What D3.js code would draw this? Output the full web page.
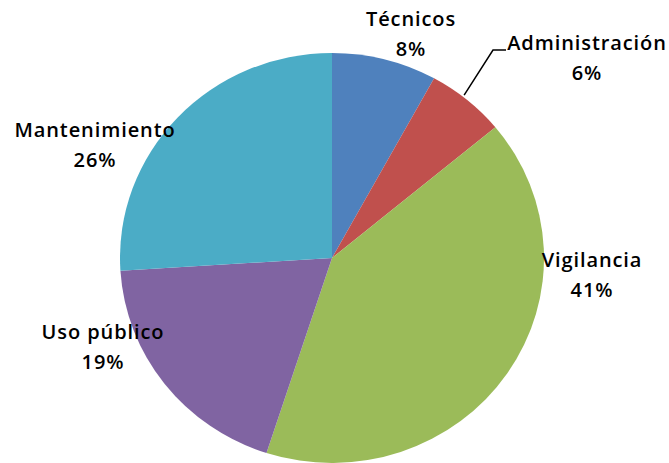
<!DOCTYPE html>
<html>
<head>
<meta charset="utf-8">
<script src="https://cdn.jsdelivr.net/npm/d3@7"></script>
<style>
  body { margin: 0; background: #fff; }
  text { font-family: "Open Sans", sans-serif; font-weight: 600; font-size: 20px; fill: #000; }
</style>
</head>
<body>
<svg id="chart" width="669" height="463"></svg>
<script>
// data
var categories = ["Técnicos", "Administración", "Vigilancia", "Uso público", "Mantenimiento"]
var shares = [8, 6, 41, 19, 26]
var colors = ["#4F81BD", "#C0504D", "#9BBB59", "#8064A2", "#4BACC6"]

// label positions (excel "best fit"), relative to pie centre
var labelAt = [[79, -232], [255, -208], [260, 9], [-229, 81], [-237, -121]]

var width = 669, height = 463
var cx = 332, cy = 258
var rx = 212, ry = 205

var svg = d3.select("#chart")

var pie = d3.pie().sort(null).value(function(d){ return d })
var arc = d3.arc().innerRadius(0).outerRadius(rx)

var arcs = pie(shares)

svg.append("g")
  .attr("transform", "translate(" + cx + "," + cy + ") scale(1," + (ry / rx) + ")")
  .selectAll("path")
  .data(arcs)
  .enter()
  .append("path")
    .attr("d", arc)
    .style("fill", function(d, i){ return colors[i] })

// leader line for Administración
var a = arcs[1]
var mid = (a.startAngle + a.endAngle) / 2
var px = cx + rx * Math.sin(mid), py = cy - ry * Math.cos(mid)
svg.append("polyline")
  .attr("points", [[px - 3, py - 5], [493, 50], [506, 50]].map(function(p){ return p.join(",") }).join(" "))
  .style("fill", "none")
  .style("stroke", "#000")
  .style("stroke-width", 1.5)

// labels
var labels = svg.append("g")
  .selectAll("text")
  .data(arcs)
  .enter()
  .append("text")
    .attr("text-anchor", "middle")
    .attr("x", function(d, i){ return cx + labelAt[i][0] })
    .attr("y", function(d, i){ return cy + labelAt[i][1] })
    .style("letter-spacing", "0.9px")

labels.append("tspan")
  .attr("x", function(d, i){ return cx + labelAt[i][0] })
  .text(function(d, i){ return categories[i] })

labels.append("tspan")
  .attr("x", function(d, i){ return cx + labelAt[i][0] })
  .attr("dy", 30)
  .text(function(d){ return d.data + "%" })
</script>
</body>
</html>
